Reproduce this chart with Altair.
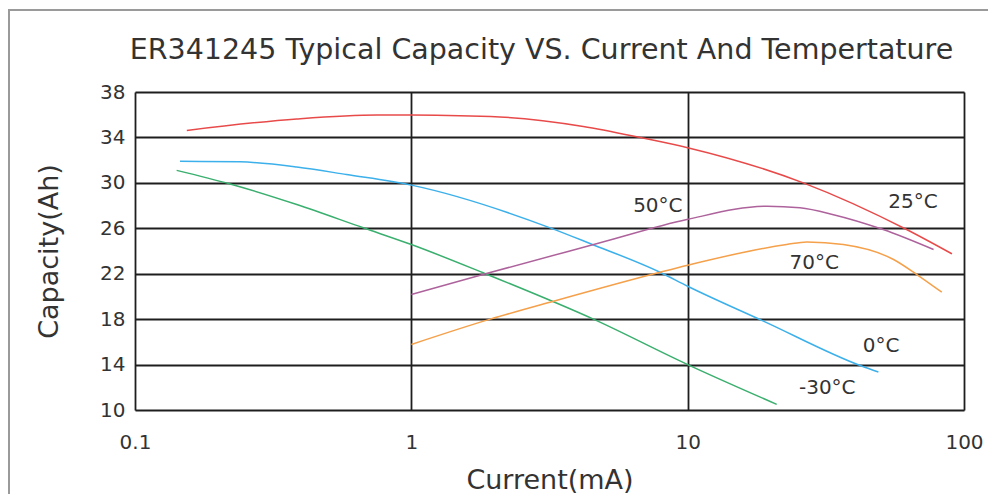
import altair as alt
import pandas as pd

# ---- data ----
red_x = [0.154, 0.385, 0.75, 1.0, 2.09, 4.19, 6.73, 10.0, 26.2, 62.0, 90.4]
red_y = [34.62, 35.63, 35.98, 35.97, 35.8, 34.97, 34.0, 33.1, 30.0, 25.89, 23.75]

blue_x = [0.1455, 0.24, 0.385, 0.583, 1.0, 3.18, 4.43, 7.94, 10.0, 18.8, 42.6, 49.0]
blue_y = [31.9, 31.85, 31.4, 30.73, 29.8, 26.04, 24.66, 22.13, 20.9, 17.83, 13.87, 13.34]

green_x = [0.1415, 0.221, 0.385, 0.67, 1.0, 1.82, 4.56, 10.0, 21.0]
green_y = [31.1, 29.9, 28.09, 26.04, 24.57, 22.08, 18.0, 14.0, 10.5]

purple_x = [1.0, 1.87, 4.82, 9.93, 19.4, 25.5, 33.7, 51.0, 77.6]
purple_y = [20.17, 22.02, 24.72, 26.77, 27.94, 27.8, 27.2, 25.89, 24.13]

orange_x = [1.0, 1.93, 3.27, 7.94, 10.0, 22.8, 27.0, 36.6, 55.6, 67.5, 83.1]
orange_y = [15.77, 18.0, 19.58, 22.13, 22.75, 24.57, 24.8, 24.57, 23.25, 21.93, 20.37]

series_names = ["25°C", "0°C", "-30°C", "50°C", "70°C"]
series_colors = ["#e84a4a", "#3cb0ea", "#3aaf6e", "#ad629c", "#f5a04a"]

label_text = ["50°C", "25°C", "70°C", "0°C", "-30°C"]
label_x = [7.8, 65.4, 28.7, 50.1, 32.0]
label_y = [28.0, 28.35, 22.94, 15.6, 11.9]

x_ticks = [0.1, 1, 10, 100]
y_ticks = [10, 14, 18, 22, 26, 30, 34, 38]

FONT = "DejaVu Sans"
TXT = "#333333"

rows = []
for name, xs, ys in zip(series_names,
                        [red_x, blue_x, green_x, purple_x, orange_x],
                        [red_y, blue_y, green_y, purple_y, orange_y]):
    for i, (a, b) in enumerate(zip(xs, ys)):
        rows.append({"series": name, "x": a, "y": b, "o": i})
df = pd.DataFrame(rows)
lab = pd.DataFrame({"t": label_text, "x": label_x, "y": label_y})

xscale = alt.Scale(type="log", domain=[0.1, 100], nice=False)
yscale = alt.Scale(domain=[10, 38], nice=False, zero=False)

lines = alt.Chart(df).mark_line(strokeWidth=1.5, interpolate="monotone").encode(
    x=alt.X("x:Q", scale=xscale,
            axis=alt.Axis(values=x_ticks, format="~g", title="Current(mA)",
                          grid=True, gridColor="#1e1e1e", gridWidth=1.8,
                          ticks=False, domain=False, labelFont=FONT,
                          labelFontSize=20, labelColor=TXT, labelPadding=22,
                          titleFont=FONT, titleFontSize=27, titleColor=TXT,
                          titleFontWeight="normal", titlePadding=15,
                          labelFlush=False)),
    y=alt.Y("y:Q", scale=yscale,
            axis=alt.Axis(values=y_ticks, title="Capacity(Ah)", grid=True,
                          gridColor="#1e1e1e", gridWidth=1.8, ticks=False,
                          domain=False, labelFont=FONT, labelFontSize=20,
                          labelColor=TXT, labelPadding=10, titleFont=FONT,
                          titleFontSize=27, titleColor=TXT,
                          titleFontWeight="normal", titlePadding=36,
                          labelFlush=False)),
    color=alt.Color("series:N",
                    scale=alt.Scale(domain=series_names, range=series_colors),
                    legend=None),
    order="o:Q",
)

labels = alt.Chart(lab).mark_text(font=FONT, fontSize=20, color=TXT,
                                   align="center", baseline="middle").encode(
    x=alt.X("x:Q", scale=xscale),
    y=alt.Y("y:Q", scale=yscale),
    text="t:N",
)

frame_v = alt.Chart(lab).mark_rule(color="#9a9a9a", strokeWidth=2).encode(
    x=alt.value(-126), y=alt.value(-83), y2=alt.value(420))
frame_h = alt.Chart(lab).mark_rule(color="#9a9a9a", strokeWidth=2).encode(
    x=alt.value(-126), x2=alt.value(860), y=alt.value(-82))

chart = alt.layer(frame_v, frame_h, lines, labels).properties(
    width=829, height=318,
    padding={"left": 127, "top": 84, "right": 24, "bottom": 84},
    autosize="none",
    title=alt.TitleParams(
        "ER341245 Typical Capacity VS. Current And Tempertature",
        font=FONT, fontSize=28.5, color=TXT, fontWeight="normal",
        anchor="middle", frame="group", offset=0, dy=56, dx=-8),
).configure_view(stroke="#2a2a2a", strokeWidth=2).configure(background="white")

chart.save("out.html", embed_options={"renderer": "svg", "actions": False})
